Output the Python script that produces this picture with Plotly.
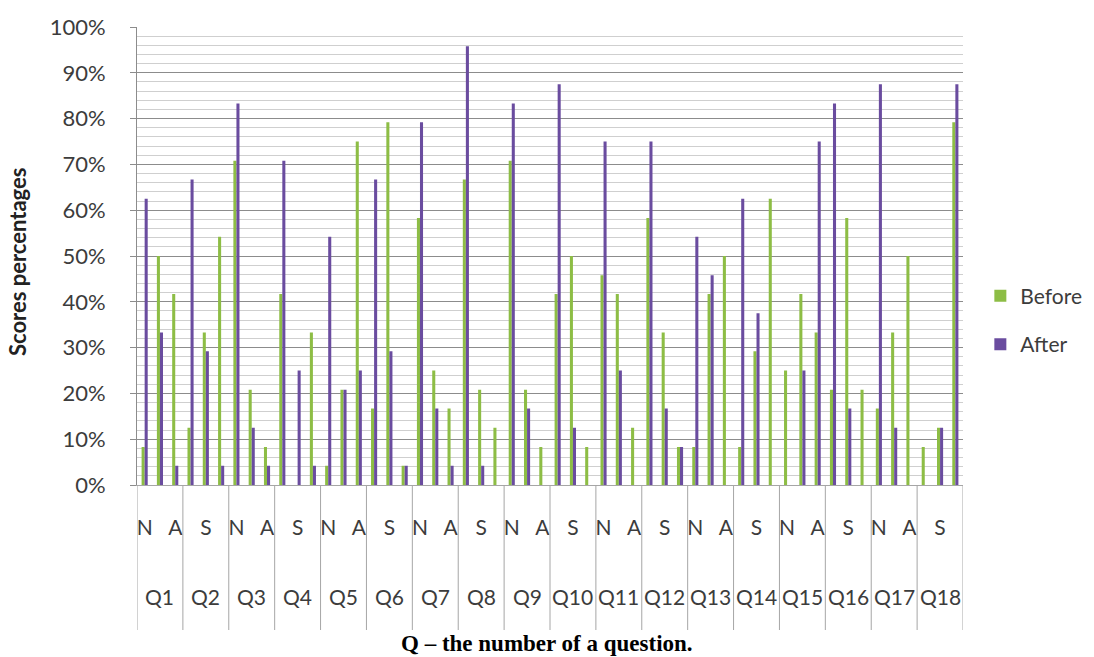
import plotly.graph_objects as go

# Questions and the three answer categories shown under each one
questions = [f"Q{i}" for i in range(1, 19)]
answers = ["N", "S", "A"]

# Scores (%) per question, in N, S, A order
before = [
    [8.3, 50.0, 41.7],   # Q1
    [12.5, 33.3, 54.2],  # Q2
    [70.8, 20.8, 8.3],   # Q3
    [41.7, 0.0, 33.3],   # Q4
    [4.2, 20.8, 75.0],   # Q5
    [16.7, 79.2, 4.2],   # Q6
    [58.3, 25.0, 16.7],  # Q7
    [66.7, 20.8, 12.5],  # Q8
    [70.8, 20.8, 8.3],   # Q9
    [41.7, 50.0, 8.3],   # Q10
    [45.8, 41.7, 12.5],  # Q11
    [58.3, 33.3, 8.3],   # Q12
    [8.3, 41.7, 50.0],   # Q13
    [8.3, 29.2, 62.5],   # Q14
    [25.0, 41.7, 33.3],  # Q15
    [20.8, 58.3, 20.8],  # Q16
    [16.7, 33.3, 50.0],  # Q17
    [8.3, 12.5, 79.2],   # Q18
]
after = [
    [62.5, 33.3, 4.2],   # Q1
    [66.7, 29.2, 4.2],   # Q2
    [83.3, 12.5, 4.2],   # Q3
    [70.8, 25.0, 4.2],   # Q4
    [54.2, 20.8, 25.0],  # Q5
    [66.7, 29.2, 4.2],   # Q6
    [79.2, 16.7, 4.2],   # Q7
    [95.8, 4.2, 0.0],    # Q8
    [83.3, 16.7, 0.0],   # Q9
    [87.5, 12.5, 0.0],   # Q10
    [75.0, 25.0, 0.0],   # Q11
    [75.0, 16.7, 8.3],   # Q12
    [54.2, 45.8, 0.0],   # Q13
    [62.5, 37.5, 0.0],   # Q14
    [0.0, 25.0, 75.0],   # Q15
    [83.3, 16.7, 0.0],   # Q16
    [87.5, 12.5, 0.0],   # Q17
    [0.0, 12.5, 87.5],   # Q18
]

GREEN = "#8dbd45"
PURPLE = "#6a4c9f"
TEXT = "#3c3c3c"
FONT = "Lato"

n_q = len(questions)
n_a = len(answers)
xpos = list(range(n_q * n_a))
inner_labels = [answers[i % n_a] for i in xpos]
before_flat = [v / 100 for row in before for v in row]
after_flat = [v / 100 for row in after for v in row]

fig = go.Figure()
fig.add_trace(go.Bar(x=xpos, y=before_flat, name="Before", marker_color=GREEN,
                     marker_line_width=0, legendgroup="b"))
fig.add_trace(go.Bar(x=xpos, y=after_flat, name="After", marker_color=PURPLE,
                     marker_line_width=0, legendgroup="a"))

# Group dividers below the category axis
div_bottom = -0.3166
for k in range(n_q + 1):
    fig.add_shape(type="line", xref="x", yref="paper",
                  x0=k * n_a - 0.5, x1=k * n_a - 0.5, y0=0, y1=div_bottom,
                  line=dict(color="#a6a6a6", width=1))

# Question labels (outer level of the category axis)
for k, q in enumerate(questions):
    fig.add_annotation(x=k * n_a + 1, y=-0.2445, xref="x", yref="paper",
                       xanchor="center", yanchor="middle",
                       text=q, showarrow=False,
                       font=dict(family=FONT, size=21, color=TEXT))

# Axis title and caption
fig.add_annotation(x=-0.144, y=0.487, xref="paper", yref="paper",
                   xanchor="center", yanchor="middle",
                   text="Scores percentages", textangle=-90, showarrow=False,
                   font=dict(family=FONT, size=22, color="#222222", weight="bold"))
fig.add_annotation(x=0.496, y=-0.345, xref="paper", yref="paper",
                   xanchor="center", yanchor="middle",
                   text="Q \u2013 the number of a question.", showarrow=False,
                   font=dict(family="Liberation Serif", size=23, color="#000000",
                             weight="bold"))

fig.update_layout(
    width=1094, height=657,
    margin=dict(l=137, r=131, t=27, b=172, autoexpand=False),
    paper_bgcolor="white", plot_bgcolor="white",
    barmode="group", bargap=0.6, bargroupgap=0,
    showlegend=True,
    legend=dict(x=1.021, y=0.457, xanchor="left", yanchor="top",
                traceorder="grouped", tracegroupgap=18,
                font=dict(family=FONT, size=21, color=TEXT),
                bgcolor="rgba(0,0,0,0)"),
    font=dict(family=FONT, color=TEXT),
)

fig.update_xaxes(
    range=[-0.5, n_q * n_a - 0.5],
    tickmode="array",
    tickvals=xpos[::2],
    ticktext=inner_labels[::2],
    ticks="", showgrid=False, zeroline=False,
    showline=True, linecolor="#a6a6a6", linewidth=1,
    tickfont=dict(family=FONT, size=21, color=TEXT),
    ticklabelstandoff=24,
)

fig.update_yaxes(
    range=[0, 1], dtick=0.1, tickformat=".0%",
    showgrid=True, gridcolor="#8c8c8c", gridwidth=1,
    minor=dict(dtick=0.02, showgrid=True, gridcolor="#cfcfcf", gridwidth=1),
    zeroline=False,
    showline=True, linecolor="#8c8c8c", linewidth=1,
    ticks="outside", ticklen=6, tickcolor="#8c8c8c",
    tickfont=dict(family=FONT, size=22, color=TEXT),
    ticklabelstandoff=20,
)

fig.write_html("out.html")
